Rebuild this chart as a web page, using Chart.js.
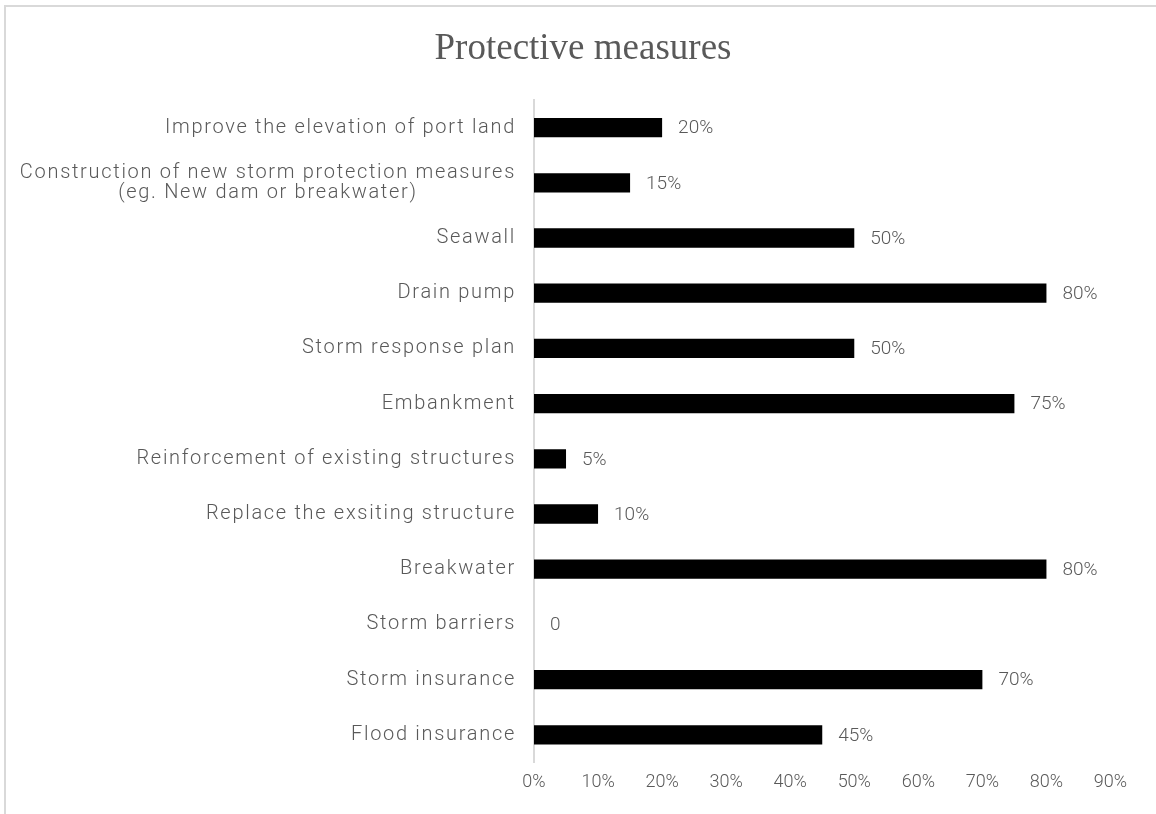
<!DOCTYPE html>
<html>
<head>
<meta charset="utf-8">
<script src="https://cdn.jsdelivr.net/npm/chart.js@4.4.1/dist/chart.umd.min.js"></script>
<style>
  html, body { margin: 0; padding: 0; background: #fff; }
  #wrap { position: relative; width: 1156px; height: 814px; overflow: hidden; }
  #frame {
    position: absolute; left: 4px; top: 5px; width: 1300px; height: 900px;
    border-left: 2px solid #d9d9d9; border-top: 2px solid #d9d9d9;
    pointer-events: none;
  }
  canvas { position: absolute; left: 0; top: 0; }
</style>
</head>
<body>
<div id="wrap">
  <canvas id="measuresChart" width="1156" height="814"></canvas>
  <div id="frame"></div>
</div>
<script>
// survey answers, top to bottom
const measures = [
  'Improve the elevation of port land',
  ['Construction of new storm protection measures', '(eg. New dam or breakwater)'],
  'Seawall',
  'Drain pump',
  'Storm response plan',
  'Embankment',
  'Reinforcement of existing structures',
  'Replace the exsiting structure',
  'Breakwater',
  'Storm barriers',
  'Storm insurance',
  'Flood insurance'
];
const shares = [20, 15, 50, 80, 50, 75, 5, 10, 80, 0, 70, 45];
const tickValues = [0, 10, 20, 30, 40, 50, 60, 70, 80, 90];
const chartTitle = 'Protective measures';

const TEXT_GREY = '#595959';
const LABEL_FONT = 'Roboto';

// title in serif, centred over the plot
const serifTitle = {
  id: 'serifTitle',
  beforeDraw(chart) {
    const { ctx } = chart;
    ctx.save();
    ctx.font = '37px "Liberation Serif"';
    ctx.fillStyle = TEXT_GREY;
    ctx.textAlign = 'center';
    ctx.textBaseline = 'alphabetic';
    ctx.fillText(chartTitle, 583, 59);
    ctx.restore();
  }
};

// category names: right aligned block, wrapped lines centred on each other
const categoryLabels = {
  id: 'categoryLabels',
  afterDraw(chart) {
    const { ctx } = chart;
    const yScale = chart.scales.y;
    const right = yScale.right - 18;
    const lineGap = 20;
    ctx.save();
    ctx.font = `300 20px ${LABEL_FONT}`;
    ctx.letterSpacing = '1.7px';
    ctx.fillStyle = TEXT_GREY;
    ctx.textAlign = 'center';
    ctx.textBaseline = 'middle';
    chart.data.labels.forEach((lbl, i) => {
      const lines = Array.isArray(lbl) ? lbl : [lbl];
      const widest = Math.max(...lines.map(l => ctx.measureText(l).width));
      const cx = right - widest / 2;
      const cy = yScale.getPixelForTick(i);
      const first = cy - (lines.length - 1) * lineGap / 2;
      lines.forEach((l, k) => ctx.fillText(l, cx, first + k * lineGap));
    });
    ctx.restore();
  }
};

// writes the percentage just past the end of each bar
const barValueLabels = {
  id: 'barValueLabels',
  afterDatasetsDraw(chart) {
    const { ctx } = chart;
    const meta = chart.getDatasetMeta(0);
    ctx.save();
    ctx.font = `300 19px ${LABEL_FONT}`;
    ctx.fillStyle = TEXT_GREY;
    ctx.textAlign = 'left';
    ctx.textBaseline = 'middle';
    meta.data.forEach((bar, i) => {
      const v = chart.data.datasets[0].data[i];
      const txt = v === 0 ? '0' : v + '%';
      ctx.fillText(txt, bar.x + 16, bar.y + 1);
    });
    ctx.restore();
  }
};

Chart.defaults.font.family = LABEL_FONT;
Chart.defaults.color = TEXT_GREY;

const measuresChart = new Chart(document.getElementById('measuresChart'), {
  type: 'bar',
  data: {
    labels: measures,
    datasets: [{
      label: 'Share',
      data: shares,
      backgroundColor: '#000000',
      borderWidth: 0,
      barPercentage: 0.35,
      categoryPercentage: 1
    }]
  },
  options: {
    indexAxis: 'y',
    responsive: false,
    animation: false,
    devicePixelRatio: 1,
    layout: {
      padding: { left: 0, right: 45.5, top: 100, bottom: 12 }
    },
    plugins: {
      legend: { display: false },
      tooltip: { enabled: false },
      title: { display: false }
    },
    scales: {
      x: {
        min: 0,
        max: 90,
        afterBuildTicks: (scale) => {
          scale.ticks = tickValues.map(v => ({ value: v }));
        },
        grid: { display: false, drawTicks: false },
        border: { display: false },
        ticks: {
          padding: 9,
          font: { size: 18, weight: 300, lineHeight: 1.2 },
          color: TEXT_GREY,
          callback: (v) => v + '%'
        }
      },
      y: {
        afterFit: (scale) => { scale.width = 534; },
        grid: { display: false, drawTicks: false },
        border: { display: true, color: '#d9d9d9', width: 2 },
        ticks: { display: false }
      }
    }
  },
  plugins: [serifTitle, categoryLabels, barValueLabels]
});
</script>
</body>
</html>
